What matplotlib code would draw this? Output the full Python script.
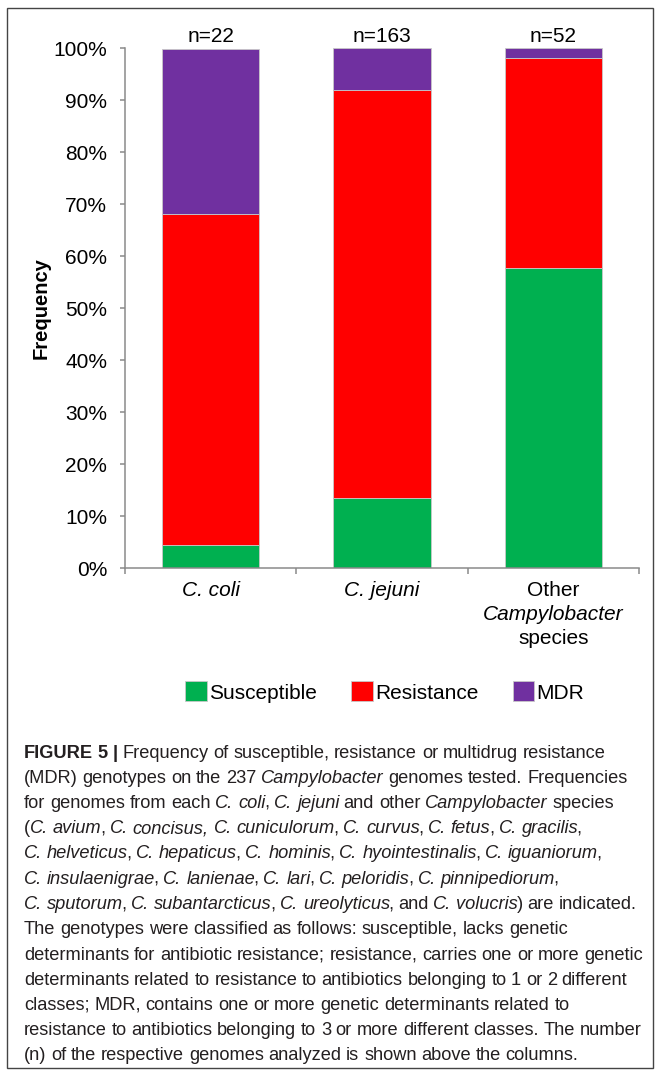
import matplotlib
matplotlib.use("Agg")
import matplotlib.pyplot as plt
from matplotlib.patches import Patch, Rectangle
from matplotlib import font_manager
import numpy as np

# ---------------- data ----------------
categories = ["C. coli", "C. jejuni", "Other Campylobacter species"]
n_genomes = [22, 163, 52]
susceptible = [4.5, 13.5, 57.7]
resistance = [63.6, 78.5, 40.4]
mdr = [31.8, 8.0, 1.9]
series_names = ["Susceptible", "Resistance", "MDR"]
colors = ["#00B050", "#FF0000", "#7030A0"]
yticks = [0, 10, 20, 30, 40, 50, 60, 70, 80, 90, 100]

caption_lines = [
    "#FIGURE 5 |# Frequency of susceptible, resistance or multidrug resistance",
    "(MDR) genotypes on the 237 *Campylobacter* genomes tested. Frequencies",
    "for genomes from each *C. coli*, *C. jejuni* and other *Campylobacter* species",
    "(*C. avium*, *C. concisus, C. cuniculorum*, *C. curvus*, *C. fetus*, *C. gracilis*,",
    "*C. helveticus*, *C. hepaticus*, *C. hominis*, *C. hyointestinalis*, *C. iguaniorum*,",
    "*C. insulaenigrae*, *C. lanienae*, *C. lari*, *C. peloridis*, *C. pinnipediorum*,",
    "*C. sputorum*, *C. subantarcticus*, *C. ureolyticus*, and *C. volucris*) are indicated.",
    "The genotypes were classified as follows: susceptible, lacks genetic",
    "determinants for antibiotic resistance; resistance, carries one or more genetic",
    "determinants related to resistance to antibiotics belonging to 1 or 2 different",
    "classes; MDR, contains one or more genetic determinants related to",
    "resistance to antibiotics belonging to 3 or more different classes. The number",
    "(n) of the respective genomes analyzed is shown above the columns.",
]

# ---------------- fonts ----------------
names = {f.name for f in font_manager.fontManager.ttflist}
chart_font = "Liberation Sans" if "Liberation Sans" in names else "DejaVu Sans"
cap_font = "Liberation Sans Narrow" if "Liberation Sans Narrow" in names else chart_font
plt.rcParams["font.family"] = [chart_font, "DejaVu Sans"]

W, H, DPI = 657, 1076, 100
fig = plt.figure(figsize=(W / DPI, H / DPI), dpi=DPI)
px = lambda p: p * 72.0 / DPI  # pixels -> points

# border
fig.patches.append(Rectangle((7 / W, 1 - 1068 / H), (653 - 7) / W, (1068 - 8) / H,
                             transform=fig.transFigure, fill=False,
                             edgecolor="#444444", lw=1.0))

ax = fig.add_axes([125 / W, 1 - 568 / H, (639 - 125) / W, (568 - 48) / H])
x = np.arange(len(categories))
bw = 0.57
bottom = np.zeros(len(categories))
for vals, col, name in zip([susceptible, resistance, mdr], colors, series_names):
    ax.bar(x, vals, bw, bottom=bottom, color=col, edgecolor="#c8c8c8",
           linewidth=0.6, label=name, zorder=2)
    bottom = bottom + np.array(vals)

ax.set_xlim(-0.5, len(categories) - 0.5)
ax.set_ylim(0, 100)
ax.set_yticks(yticks)
ax.set_yticklabels([f"{v}%" for v in yticks], fontsize=15)
ax.tick_params(axis="y", length=px(5), width=1.1, color="#8a8a8a", pad=px(13))
ax.set_xticks(np.arange(len(categories) + 1) - 0.5)
ax.set_xticklabels([])
ax.tick_params(axis="x", length=px(6), width=1.1, color="#8a8a8a")
for s in ["top", "right"]:
    ax.spines[s].set_visible(False)
for s in ["left", "bottom"]:
    ax.spines[s].set_color("#8a8a8a")
    ax.spines[s].set_linewidth(1.1)

ax.set_ylabel("Frequency", fontsize=14.5, fontweight="bold", labelpad=px(3))

# category labels
label_lines = [
    [("C. coli", "italic")],
    [("C. jejuni", "italic")],
    [("Other", "normal"), ("Campylobacter", "italic"), ("species", "normal")],
]
for i, lines in enumerate(label_lines):
    for k, (t, st) in enumerate(lines):
        ax.annotate(t, xy=(x[i], 0), xycoords="data",
                    xytext=(0, -px(22 + 24.5 * k)), textcoords="offset points",
                    ha="center", va="center", fontsize=15, style=st)

# n labels
for i in range(len(categories)):
    ax.annotate(f"n={n_genomes[i]}", xy=(x[i], bottom[i]), xycoords="data",
                xytext=(0, px(12)), textcoords="offset points",
                ha="center", va="center", fontsize=15)

# legend
handles = [Patch(facecolor=c, edgecolor="#c8c8c8", linewidth=0.6) for c in colors]
fig.legend(handles, series_names, loc="center", bbox_to_anchor=(384.5 / W, 1 - 692 / H),
           ncol=3, frameon=False, fontsize=15, handlelength=1.05, handleheight=1.1,
           handletextpad=0.1, columnspacing=1.65, borderaxespad=0)

# ---------------- caption ----------------
renderer = fig.canvas.get_renderer()
_cache = {}


def parse(line):
    runs = []
    italic = bold = False
    buf = ""
    for ch in line:
        if ch in "*#":
            if buf:
                runs.append((buf, italic, bold))
            buf = ""
            if ch == "*":
                italic = not italic
            else:
                bold = not bold
        else:
            buf += ch
    if buf:
        runs.append((buf, italic, bold))
    return runs


def _raw(s, it, bd, size):
    key = (s, it, bd, size)
    if key not in _cache:
        t = fig.text(0, 0, s, fontsize=size, family=[cap_font, "DejaVu Sans"],
                     style="italic" if it else "normal",
                     weight="bold" if bd else "normal")
        _cache[key] = t.get_window_extent(renderer).width
        t.remove()
    return _cache[key]


def adv(s, it, bd, size):
    return _raw("l" + s + "l", it, bd, size) - _raw("ll", it, bd, size)


def line_width(runs, size, draw=False, x0=0, yb=0):
    xcur = x0
    prev_italic = False
    for s, it, bd in runs:
        if prev_italic and not it and not s.startswith(" "):
            xcur -= 0.09 * size * DPI / 72.0  # italic correction before upright punctuation
        pieces = s.split(" ")
        sw = adv(" ", it, bd, size) * 0.92
        for j, p in enumerate(pieces):
            if j > 0:
                xcur += sw
            if p:
                if draw:
                    fig.text(xcur / W, 1 - yb / H, p, fontsize=size,
                             family=[cap_font, "DejaVu Sans"],
                             style="italic" if it else "normal",
                             weight="bold" if bd else "normal",
                             ha="left", va="baseline", color="#231f20")
                xcur += adv(p, it, bd, size)
        prev_italic = it
    return xcur - x0


targets = [605, 627, 618, 591, 606, 561, 643, 566, 641, 630, 571, 642, 575]
parsed = [parse(l) for l in caption_lines]
ref = 10.0
ratios = [(t - 24) / line_width(r, ref) for r, t in zip(parsed, targets)]
cap_size = ref * float(np.median(ratios))

for k, r in enumerate(parsed):
    yc = 752 + k * 25.25
    line_width(r, cap_size, draw=True, x0=24, yb=yc + 5.5)

fig.savefig("out.png", dpi=DPI)
